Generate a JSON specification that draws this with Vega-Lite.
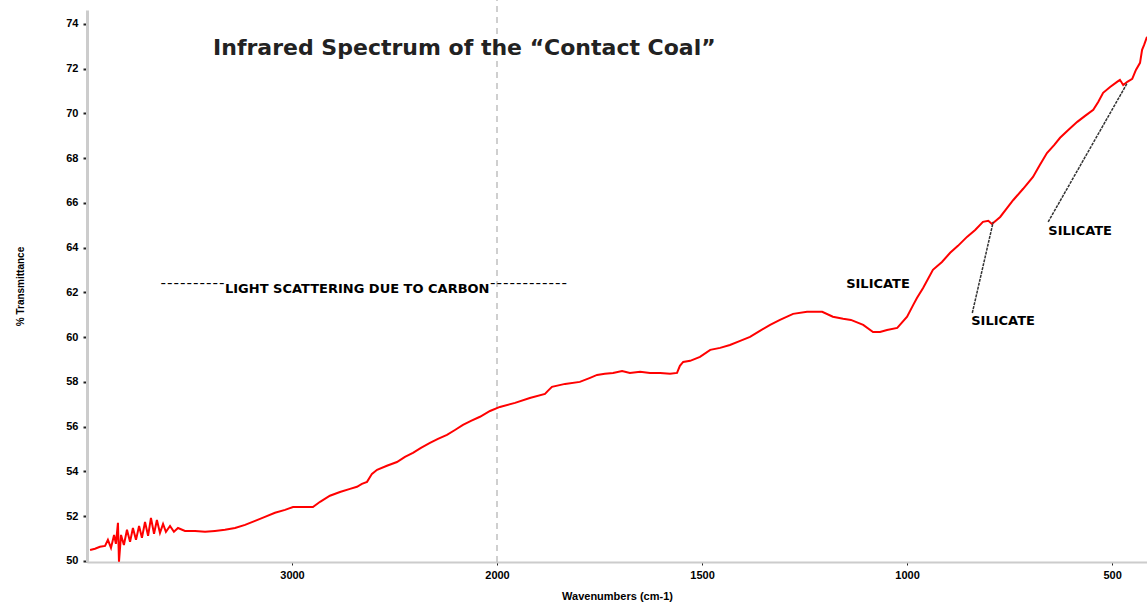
{
  "$schema": "https://vega.github.io/schema/vega-lite/v6.json",
  "width": 1060,
  "height": 552,
  "autosize": "none",
  "padding": {"left": 87, "top": 10, "right": 0, "bottom": 45},
  "background": "white",
  "config": {"view": {"stroke": null}},
  "datasets": {
    "spec": [
      {"wn": 3985, "t": 50.49}, {"wn": 3961, "t": 50.54}, {"wn": 3937, "t": 50.63}, {"wn": 3912, "t": 50.67},
      {"wn": 3898, "t": 50.94}, {"wn": 3883, "t": 50.58}, {"wn": 3868, "t": 51.16}, {"wn": 3859, "t": 50.76},
      {"wn": 3849, "t": 51.70}, {"wn": 3844, "t": 49.96}, {"wn": 3834, "t": 51.16}, {"wn": 3820, "t": 50.71},
      {"wn": 3805, "t": 51.39}, {"wn": 3790, "t": 50.85}, {"wn": 3776, "t": 51.47}, {"wn": 3761, "t": 50.94},
      {"wn": 3746, "t": 51.56}, {"wn": 3732, "t": 51.03}, {"wn": 3717, "t": 51.74}, {"wn": 3702, "t": 51.12},
      {"wn": 3688, "t": 51.92}, {"wn": 3673, "t": 51.21}, {"wn": 3659, "t": 51.83}, {"wn": 3644, "t": 51.25},
      {"wn": 3629, "t": 51.65}, {"wn": 3615, "t": 51.30}, {"wn": 3595, "t": 51.56}, {"wn": 3576, "t": 51.30},
      {"wn": 3556, "t": 51.47}, {"wn": 3522, "t": 51.34}, {"wn": 3473, "t": 51.34}, {"wn": 3424, "t": 51.30},
      {"wn": 3376, "t": 51.34}, {"wn": 3327, "t": 51.39}, {"wn": 3278, "t": 51.47}, {"wn": 3229, "t": 51.61},
      {"wn": 3180, "t": 51.79}, {"wn": 3132, "t": 51.97}, {"wn": 3083, "t": 52.15}, {"wn": 3034, "t": 52.28},
      {"wn": 2995, "t": 52.41}, {"wn": 2946, "t": 52.41}, {"wn": 2898, "t": 52.41}, {"wn": 2863, "t": 52.64},
      {"wn": 2815, "t": 52.91}, {"wn": 2766, "t": 53.08}, {"wn": 2717, "t": 53.22}, {"wn": 2683, "t": 53.31},
      {"wn": 2659, "t": 53.44}, {"wn": 2634, "t": 53.53}, {"wn": 2610, "t": 53.89}, {"wn": 2585, "t": 54.07},
      {"wn": 2537, "t": 54.25}, {"wn": 2488, "t": 54.42}, {"wn": 2449, "t": 54.65}, {"wn": 2410, "t": 54.83},
      {"wn": 2371, "t": 55.05}, {"wn": 2327, "t": 55.27}, {"wn": 2288, "t": 55.45}, {"wn": 2244, "t": 55.63},
      {"wn": 2205, "t": 55.85}, {"wn": 2166, "t": 56.08}, {"wn": 2127, "t": 56.26}, {"wn": 2083, "t": 56.44},
      {"wn": 2034, "t": 56.70}, {"wn": 1993, "t": 56.88}, {"wn": 1956, "t": 57.06}, {"wn": 1920, "t": 57.28},
      {"wn": 1883, "t": 57.46}, {"wn": 1876, "t": 57.60}, {"wn": 1866, "t": 57.78}, {"wn": 1834, "t": 57.91},
      {"wn": 1798, "t": 58.00}, {"wn": 1773, "t": 58.18}, {"wn": 1756, "t": 58.31}, {"wn": 1737, "t": 58.36},
      {"wn": 1717, "t": 58.40}, {"wn": 1695, "t": 58.49}, {"wn": 1676, "t": 58.40}, {"wn": 1651, "t": 58.45},
      {"wn": 1627, "t": 58.40}, {"wn": 1602, "t": 58.40}, {"wn": 1578, "t": 58.36}, {"wn": 1561, "t": 58.40},
      {"wn": 1554, "t": 58.72}, {"wn": 1546, "t": 58.89}, {"wn": 1529, "t": 58.94}, {"wn": 1505, "t": 59.12},
      {"wn": 1480, "t": 59.43}, {"wn": 1456, "t": 59.52}, {"wn": 1432, "t": 59.65}, {"wn": 1407, "t": 59.83},
      {"wn": 1383, "t": 60.01}, {"wn": 1359, "t": 60.28}, {"wn": 1334, "t": 60.55}, {"wn": 1310, "t": 60.77},
      {"wn": 1278, "t": 61.04}, {"wn": 1244, "t": 61.13}, {"wn": 1207, "t": 61.13}, {"wn": 1181, "t": 60.91},
      {"wn": 1156, "t": 60.82}, {"wn": 1137, "t": 60.77}, {"wn": 1107, "t": 60.55}, {"wn": 1083, "t": 60.23},
      {"wn": 1066, "t": 60.23}, {"wn": 1049, "t": 60.32}, {"wn": 1024, "t": 60.41}, {"wn": 1000, "t": 60.91},
      {"wn": 985, "t": 61.44}, {"wn": 976, "t": 61.75}, {"wn": 961, "t": 62.20}, {"wn": 937, "t": 63.01},
      {"wn": 915, "t": 63.36}, {"wn": 895, "t": 63.77}, {"wn": 876, "t": 64.08}, {"wn": 854, "t": 64.48},
      {"wn": 834, "t": 64.79}, {"wn": 815, "t": 65.15}, {"wn": 802, "t": 65.20}, {"wn": 793, "t": 65.06},
      {"wn": 773, "t": 65.37}, {"wn": 756, "t": 65.78}, {"wn": 741, "t": 66.13}, {"wn": 717, "t": 66.63},
      {"wn": 693, "t": 67.16}, {"wn": 676, "t": 67.70}, {"wn": 659, "t": 68.23}, {"wn": 641, "t": 68.59},
      {"wn": 627, "t": 68.91}, {"wn": 607, "t": 69.26}, {"wn": 585, "t": 69.62}, {"wn": 566, "t": 69.89},
      {"wn": 546, "t": 70.16}, {"wn": 534, "t": 70.51}, {"wn": 522, "t": 70.92}, {"wn": 505, "t": 71.18},
      {"wn": 488, "t": 71.41}, {"wn": 481, "t": 71.50}, {"wn": 473, "t": 71.27}, {"wn": 463, "t": 71.41},
      {"wn": 451, "t": 71.54}, {"wn": 442, "t": 71.94}, {"wn": 432, "t": 72.26}, {"wn": 427, "t": 72.84},
      {"wn": 422, "t": 73.06}, {"wn": 415, "t": 73.42}
    ],
    "leaders": [
      {"wn": 841, "t": 61.08, "wn2": 790, "t2": 65.15},
      {"wn": 656, "t": 65.15, "wn2": 463, "t2": 71.36}
    ],
    "vline": [{"wn": 2000, "t": 49.95, "t2": 75.2}],
    "labels": [
      {"wn": 1071, "t": 62.38, "label": "SILICATE"},
      {"wn": 766, "t": 60.73, "label": "SILICATE"},
      {"wn": 578, "t": 64.75, "label": "SILICATE"}
    ],
    "note": [{"wn": 3644, "t": 62.16, "label": "¯¯¯¯¯¯¯¯¯¯LIGHT SCATTERING DUE TO CARBON¯¯¯¯¯¯¯¯¯¯¯¯"}],
    "heading": [{"wn": 3385, "t": 72.93, "label": "Infrared Spectrum of the “Contact Coal”"}]
  },
  "layer": [
    {
      "data": {"name": "vline"},
      "mark": {"type": "rule", "color": "#c0c0c0", "strokeWidth": 1.5, "strokeDash": [6, 5]},
      "encoding": {
        "x": {"field": "wn", "type": "quantitative"},
        "y": {"field": "t", "type": "quantitative"},
        "y2": {"field": "t2"}
      }
    },
    {
      "data": {"name": "spec"},
      "mark": {"type": "line", "color": "#ff0000", "strokeWidth": 2, "interpolate": "linear"},
      "encoding": {
        "x": {
          "field": "wn", "type": "quantitative",
          "scale": {"domain": [4000, 2000, 415], "range": [0, 410, 1060], "nice": false, "zero": false},
          "axis": {
            "title": "Wavenumbers (cm-1)", "values": [3000, 2000, 1500, 1000, 500], "format": "d",
            "grid": false, "domainColor": "#cccccc", "domainWidth": 2, "tickColor": "#222", "tickSize": 3,
            "labelFont": "Liberation Sans", "labelFontWeight": "bold", "labelFontSize": 11, "labelColor": "#000",
            "labelPadding": 4, "titleFont": "Liberation Sans", "titleFontWeight": "bold", "titleFontSize": 11,
            "titleColor": "#000", "titlePadding": 10
          }
        },
        "y": {
          "field": "t", "type": "quantitative",
          "scale": {"domain": [49.95, 74.62], "nice": false, "zero": false},
          "axis": {
            "title": "% Transmittance", "values": [50, 52, 54, 56, 58, 60, 62, 64, 66, 68, 70, 72, 74], "format": "d",
            "grid": false, "domainColor": "#cccccc", "domainWidth": 3, "tickColor": "#222", "tickSize": 4, "tickWidth": 2,
            "labelFont": "Liberation Sans", "labelFontWeight": "bold", "labelFontSize": 11, "labelColor": "#000",
            "labelPadding": 5, "titleFont": "Liberation Sans", "titleFontWeight": "bold", "titleFontSize": 10,
            "titleColor": "#000", "titlePadding": 40
          }
        }
      }
    },
    {
      "data": {"name": "leaders"},
      "mark": {"type": "rule", "color": "#333333", "strokeWidth": 1.5, "strokeDash": [3, 1]},
      "encoding": {
        "x": {"field": "wn", "type": "quantitative"},
        "y": {"field": "t", "type": "quantitative"},
        "x2": {"field": "wn2"},
        "y2": {"field": "t2"}
      }
    },
    {
      "data": {"name": "labels"},
      "mark": {"type": "text", "font": "DejaVu Sans", "fontWeight": "bold", "fontSize": 13, "color": "#000", "align": "center", "baseline": "middle"},
      "encoding": {
        "x": {"field": "wn", "type": "quantitative"},
        "y": {"field": "t", "type": "quantitative"},
        "text": {"field": "label"}
      }
    },
    {
      "data": {"name": "note"},
      "mark": {"type": "text", "font": "DejaVu Sans", "fontWeight": "bold", "fontSize": 13, "color": "#000", "align": "left", "baseline": "middle"},
      "encoding": {
        "x": {"field": "wn", "type": "quantitative"},
        "y": {"field": "t", "type": "quantitative"},
        "text": {"field": "label"}
      }
    },
    {
      "data": {"name": "heading"},
      "mark": {"type": "text", "font": "DejaVu Sans", "fontWeight": "bold", "fontSize": 22, "color": "#222", "align": "left", "baseline": "middle"},
      "encoding": {
        "x": {"field": "wn", "type": "quantitative"},
        "y": {"field": "t", "type": "quantitative"},
        "text": {"field": "label"}
      }
    }
  ]
}
